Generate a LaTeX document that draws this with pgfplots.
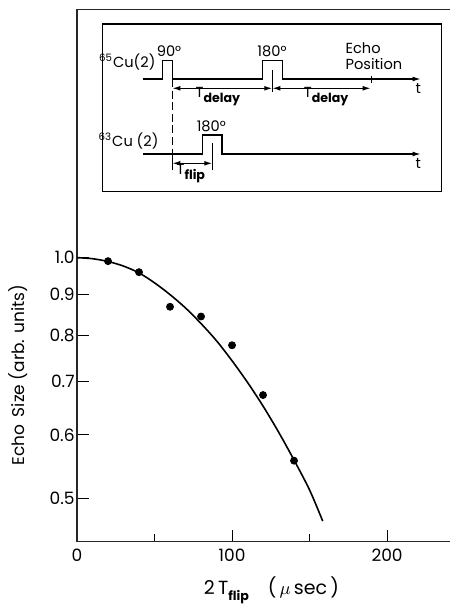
\documentclass[border=0pt]{standalone}
\usepackage{fontspec}
\setmainfont{Poppins}
\usepackage{pgfplots}
\usepackage{pgfplotstable}
\pgfplotsset{compat=1.18}
\usetikzlibrary{arrows.meta}

% measured echo sizes
\pgfplotstableread{
x y
20 0.990
40 0.959
60 0.868
80 0.844
100 0.777
120 0.673
140 0.557
}\echodata

% fitted curve
\pgfplotstableread{
x y
0 1.000
10 0.997
20 0.989
30 0.976
40 0.957
50 0.930
60 0.899
70 0.865
80 0.827
90 0.787
100 0.743
110 0.698
120 0.652
130 0.605
140 0.558
150 0.512
158.5 0.468
}\fitcurve

\newcommand{\sub}[1]{\raisebox{-0.55ex}{\bfseries\fontsize{6.3}{7}\selectfont #1}}

\begin{document}
\begin{tikzpicture}[>={Latex[length=4pt,width=2.4pt]}]
\begin{axis}[
    scale only axis,
    width=186.5pt, height=266.2pt,
    xmin=0, xmax=240.6,
    ymode=log, ymin=0.441, ymax=2.046,
    axis x line*=bottom, axis y line*=left,
    tick align=inside,
    clip=false,
    xtick={0,100,200}, xticklabels={0,100,200},
    minor xtick={50,150},
    ytick={0.5,0.6,0.7,0.8,0.9,1.0},
    yticklabels={0.5,0.6,0.7,0.8,0.9,1.0},
    yminorticks=false,
    major tick length=6pt, minor tick length=4pt,
    tick style={black, line width=0.5pt},
    axis line style={black!85, line width=0.7pt},
    ticklabel style={font=\fontsize{8.5}{10}\selectfont},
    yticklabel style={inner xsep=1pt},
    xlabel={2\,T\sub{flip}\quad(\,$\mu$\,sec\,)},
    xlabel style={at={([xshift=4pt]axis description cs:0.5,0)}, anchor=base, yshift=-26.5pt,
        font=\fontsize{9.5}{10}\selectfont},
    ylabel={Echo\, Size (arb. units)},
    ylabel style={at={([xshift=-29.5pt]axis description cs:0,0.313)}, anchor=center,
        font=\fontsize{8.5}{10}\selectfont},
]
\addplot[black, line width=0.8pt, smooth] table[x=x, y=y] {\fitcurve};
\addplot[only marks, mark=*, mark size=1.75pt, black] table[x=x, y=y] {\echodata};
\draw[black!85, line width=0.7pt] (rel axis cs:0,1) -- (rel axis cs:1,1);
\coordinate (TL) at (rel axis cs:0,1);
\end{axis}

% pulse sequence inset (units: reference pixels from the top left corner of the axis)
\begin{scope}[shift={(TL)}, x=0.5pt, y=-0.5pt, line width=0.6pt,
    font=\fontsize{7.3}{8}\selectfont, every node/.style={inner sep=0pt}]
\draw (25.3,14.7) rectangle (364.7,182.4);
% 65Cu(2) trace
\draw[->] (65.7,69.7) -- (85.7,69.7) -- (85.7,51.4) -- (95.3,51.4) -- (95.3,69.7)
    -- (185.3,69.7) -- (185.3,51.4) -- (205.3,51.4) -- (205.3,69.7) -- (343.7,69.7);
\draw (195.3,60.7) -- (195.3,82.4);
\draw (294.7,66.4) -- (294.7,74);
\draw[<->] (95.3,79) -- (195.3,79);
\draw[<->] (195.3,79) -- (293.7,79);
\node[anchor=base] at (92,47) {90°};
\node[anchor=base] at (195,47) {180°};
\node[anchor=base west] at (268,44.7) {Echo};
\node[anchor=base west] at (268,60) {Position};
\node[anchor=base] at (341.3,84) {t};
\node[anchor=base east] at (79,58) {\textsuperscript{65}Cu(2)};
\node[anchor=base west] at (118,88.7) {T\sub{delay}};
\node[anchor=base west] at (226.3,88.7) {T\sub{delay}};
% dashed marker
\draw[dash pattern=on 4pt off 1.8pt] (95.3,69.7) -- (95.3,147.7);
% 63Cu(2) trace
\draw[->] (65.7,144.7) -- (125.7,144.7) -- (125.7,125.7) -- (145,125.7) -- (145,144.7)
    -- (343.7,144.7);
\draw (135.3,133.7) -- (135.3,160.7);
\draw (95.3,147.7) -- (95.3,160.7);
\draw[<->] (95.3,154) -- (135.3,154);
\node[anchor=base] at (134.3,122) {180°};
\node[anchor=base east] at (82,137.4) {\textsuperscript{63}Cu (2)};
\node[anchor=base] at (341.3,159) {t};
\node[anchor=base west] at (99,165.4) {T\sub{flip}};
\pgfresetboundingbox
\path[use as bounding box] (-77,-9.3) rectangle (373,594.7);
\end{scope}
\end{tikzpicture}
\end{document}
